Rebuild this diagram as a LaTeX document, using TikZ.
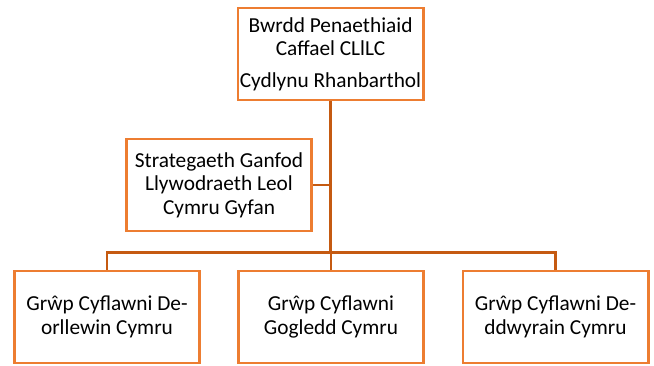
\documentclass[tikz,border=0pt]{standalone}
\usepackage{fontspec}
\setmainfont{Carlito}
\definecolor{boxline}{RGB}{237,125,49}
\definecolor{linkline}{RGB}{197,90,17}
\tikzset{every picture/.style={line width=0.75pt}}
\tikzset{
  orgbox/.style={draw=boxline, line width=2pt, fill=white, align=center,
    minimum width=139pt, minimum height=69pt, inner sep=0pt,
    font=\fontsize{16}{17.5}\selectfont},
  orglink/.style={draw=linkline, line width=1.6pt}
}

\begin{document}
\begin{tikzpicture}[x=0.75pt,y=0.75pt,yscale=-1,xscale=1]
\useasboundingbox (0,0) rectangle (654,365);

% Top box
\node [orgbox] (board) at (330.5,54) {Bwrdd Penaethiaid\\Caffael CLlLC\\[6pt]Cydlynu Rhanbarthol};
% Side box
\node [orgbox] (strategy) at (219,185) {Strategaeth Ganfod\\Llywodraeth Leol\\Cymru Gyfan};
% Bottom boxes
\node [orgbox] (west) at (107,317) {Grŵp Cyflawni De-\\orllewin Cymru};
\node [orgbox] (north) at (331,317) {Grŵp Cyflawni\\Gogledd Cymru};
\node [orgbox] (east) at (555.5,317) {Grŵp Cyflawni De-\\ddwyrain Cymru};

% Junctions
\coordinate (bar) at (330.5,252.5);
\coordinate (side) at (330.5,185);

% Connectors
\draw [orglink] (board.south) -- (bar);
\draw [orglink] (strategy.east) -- (side);
\draw [orglink] (west.north) |- (bar) -| (east.north);
\draw [orglink] (bar) -| (north.north);

\end{tikzpicture}
\end{document}
